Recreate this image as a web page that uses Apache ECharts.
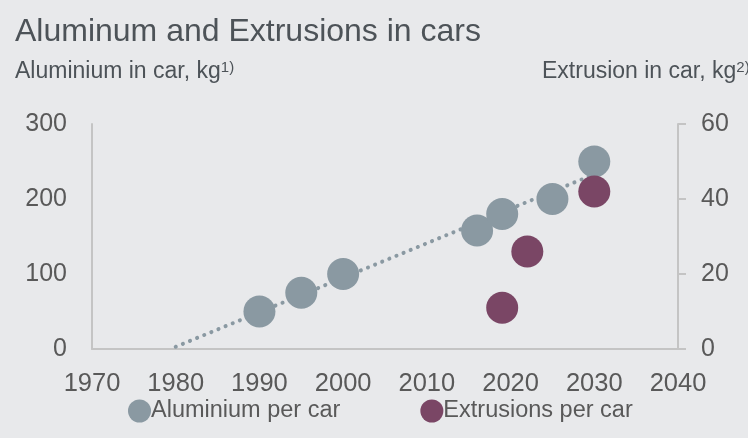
<!DOCTYPE html>
<html>
<head>
<meta charset="utf-8">
<script src="https://cdn.jsdelivr.net/npm/echarts@6/dist/echarts.min.js"></script>
<style>
html,body{margin:0;padding:0;background:#E8E9EB;}
#c{width:748px;height:438px;}
</style>
</head>
<body>
<div id="c"></div>
<script>
// Data
var aluminiumYears = [1990, 1995, 2000, 2016, 2019, 2025, 2030];
var aluminiumKg = [50, 75, 100, 158, 180, 200, 250];
var extrusionYears = [2019, 2022, 2030];
var extrusionKg = [11, 26, 42];
var trendYears = [1980, 2030];
var trendKg = [3, 233];
var xTicks = [1970, 1980, 1990, 2000, 2010, 2020, 2030, 2040];
var leftTicks = [0, 100, 200, 300];
var rightTicks = [0, 20, 40, 60];

var FONT = 'Liberation Sans, Arial, sans-serif';
var TXT = '#595959';
var HEAD = '#4D5358';
var GRAY = '#8A99A2';
var PURPLE = '#7A4665';

function pairs(xs, ys){ return xs.map(function(x,i){return [x, ys[i]];}); }

var supRich = {s: {fontFamily: FONT, fontSize: 15, color: HEAD, verticalAlign: 'top', padding: [0,0,9,0]}};

var chart = echarts.init(document.getElementById('c'));
chart.setOption({
  backgroundColor: '#E8E9EB',
  animation: false,
  title: [
    {text: 'Aluminum and Extrusions in cars', left: 15, top: 16, padding: 0,
     textStyle: {fontFamily: FONT, fontSize: 32, fontWeight: 'normal', color: HEAD}},
    {text: 'Aluminium in car, kg{s|1)}', left: 15, top: 60, padding: 0,
     textStyle: {fontFamily: FONT, fontSize: 23, fontWeight: 'normal', color: HEAD, rich: supRich}},
    {text: 'Extrusion in car, kg{s|2)}', left: 542, top: 60, padding: 0,
     textStyle: {fontFamily: FONT, fontSize: 23, fontWeight: 'normal', color: HEAD, rich: supRich}}
  ],
  legend: {
    top: 399, left: 128, padding: 0, itemGap: 80, itemWidth: 23, itemHeight: 23,
    icon: 'circle',
    textStyle: {fontFamily: FONT, fontSize: 23.5, color: TXT, padding: [0,0,0,-5]},
    data: ['Aluminium per car', 'Extrusions per car']
  },
  grid: {left: 92, right: 70, top: 124, bottom: 89, containLabel: false},
  xAxis: {
    type: 'value', min: xTicks[0], max: xTicks[xTicks.length-1], interval: 10,
    axisLine: {show: true, lineStyle: {color: '#C4C4C4', width: 2}},
    axisTick: {show: false}, splitLine: {show: false},
    axisLabel: {fontFamily: FONT, fontSize: 25.5, color: TXT, margin: 22,
      formatter: function(v){ return String(v); }}
  },
  yAxis: [
    {type: 'value', min: leftTicks[0], max: leftTicks[leftTicks.length-1], interval: 100,
     axisLine: {show: true, lineStyle: {color: '#C4C4C4', width: 2}},
     axisTick: {show: false}, splitLine: {show: false},
     axisLabel: {fontFamily: FONT, fontSize: 25, color: TXT, margin: 25}},
    {type: 'value', position: 'right', min: rightTicks[0], max: rightTicks[rightTicks.length-1], interval: 20,
     axisLine: {show: true, lineStyle: {color: '#C4C4C4', width: 2}},
     axisTick: {show: true, length: 8, lineStyle: {color: '#C4C4C4', width: 2}}, splitLine: {show: false},
     axisLabel: {fontFamily: FONT, fontSize: 25, color: TXT, margin: 23}}
  ],
  series: [
    {name: 'trend', type: 'line', yAxisIndex: 0, data: pairs(trendYears, trendKg),
     symbol: 'none', z: 1, silent: true,
     lineStyle: {color: GRAY, width: 4, type: [0.1, 7.6], cap: 'round'}},
    {name: 'Aluminium per car', type: 'scatter', yAxisIndex: 0, data: pairs(aluminiumYears, aluminiumKg),
     symbolSize: 32, z: 2, itemStyle: {color: GRAY, opacity: 1}},
    {name: 'Extrusions per car', type: 'scatter', yAxisIndex: 1, data: pairs(extrusionYears, extrusionKg),
     symbolSize: 32, z: 3, itemStyle: {color: PURPLE, opacity: 1}}
  ]
});
</script>
</body>
</html>
